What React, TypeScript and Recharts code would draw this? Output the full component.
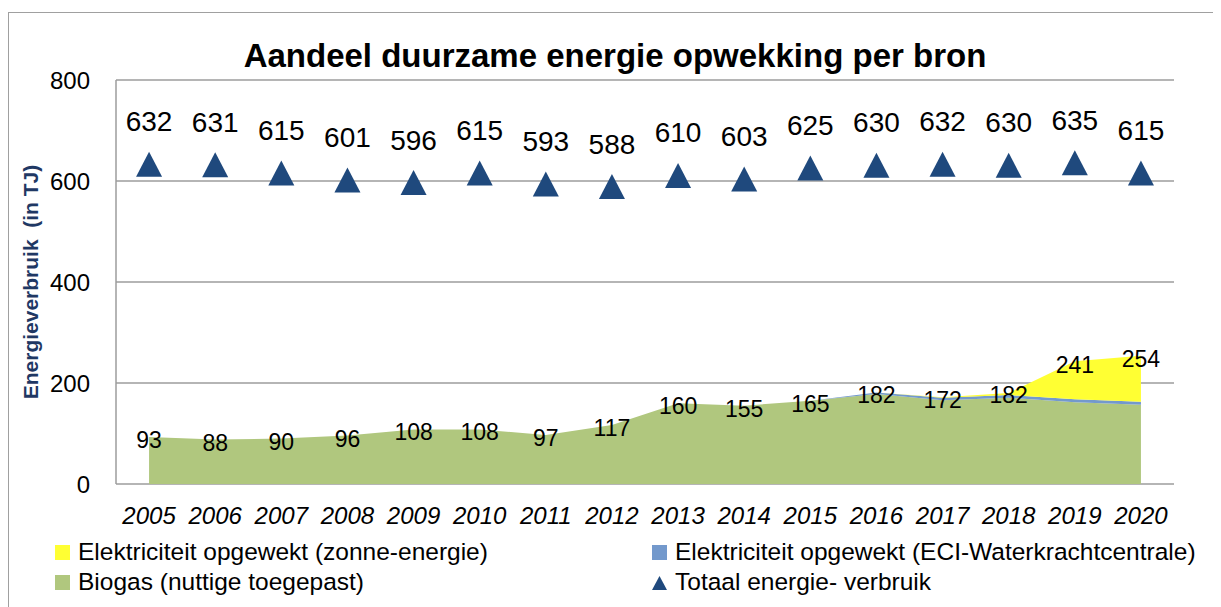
import React from 'react';
import { ComposedChart, Area, Line, XAxis, YAxis, CartesianGrid, Legend, LabelList } from 'recharts';

const years = ['2005', '2006', '2007', '2008', '2009', '2010', '2011', '2012', '2013', '2014', '2015', '2016', '2017', '2018', '2019', '2020'];
const biogas = [93, 88, 90, 96, 108, 108, 97, 117, 160, 155, 165, 178, 166, 171, 162, 157];
const eci = [0, 0, 0, 0, 0, 0, 0, 0, 0, 0, 0, 3, 5, 5, 6, 6];
const zonne = [0, 0, 0, 0, 0, 0, 0, 0, 0, 0, 0, 0, 1, 4, 75, 91];
const areaLabels = [93, 88, 90, 96, 108, 108, 97, 117, 160, 155, 165, 182, 172, 182, 241, 254];
const totaal = [632, 631, 615, 601, 596, 615, 593, 588, 610, 603, 625, 630, 632, 630, 635, 615];
const yTicks = [0, 200, 400, 600, 800];

const data = years.map((y, i) => ({
  idx: i,
  year: y,
  biogas: biogas[i],
  eci: eci[i],
  zonne: zonne[i],
  areaLabel: areaLabels[i],
  totaal: totaal[i],
}));

const centerTicks = years.map((_, i) => i);
const boundaryTicks = [-0.5, ...years.map((_, i) => i + 0.5)];

const FONT = '"Liberation Sans", Arial, sans-serif';
const C_GREEN = '#B0C77E';
const C_YELLOW = '#FFFF33';
const C_BLUE = '#7399CC';
const C_TRI = '#1F497D';
const GRID = '#9C9C9C';

const Triangle = (props: any) => {
  const { cx, cy } = props;
  if (cx == null || cy == null) return null;
  const pts = `${cx},${cy - 13} ${cx - 13},${cy + 12} ${cx + 13},${cy + 12}`;
  return <polygon points={pts} fill={C_TRI} />;
};

const TotLabel = (props: any) => {
  const { x, y, value } = props;
  return (
    <text x={x} y={y - 43} textAnchor="middle" dominantBaseline="central" fontSize={28} fontFamily={FONT} fill="#000">
      {value}
    </text>
  );
};

const AreaLabel = (props: any) => {
  const { x, y, value } = props;
  return (
    <text x={x} y={y + 3} textAnchor="middle" dominantBaseline="central" fontSize={23} fontFamily={FONT} fill="#000">
      {value}
    </text>
  );
};

const legendItems = [
  { label: 'Elektriciteit opgewekt (zonne-energie)', color: C_YELLOW, kind: 'sq' },
  { label: 'Elektriciteit opgewekt (ECI-Waterkrachtcentrale)', color: C_BLUE, kind: 'sq' },
  { label: 'Biogas (nuttige toegepast)', color: C_GREEN, kind: 'sq' },
  { label: 'Totaal energie- verbruik', color: C_TRI, kind: 'tri' },
];

const LegendContent = () => (
  <div style={{ position: 'relative', width: 1208, height: 60, fontFamily: FONT, fontSize: 24.5, color: '#000' }}>
    {legendItems.map((it, i) => {
      const col = i % 2;
      const row = Math.floor(i / 2);
      const left = col === 0 ? 46 : 643;
      return (
        <div
          key={it.label}
          style={{ position: 'absolute', left, top: row * 30, height: 30, display: 'flex', alignItems: 'center', whiteSpace: 'nowrap' }}
        >
          {it.kind === 'sq' ? (
            <span style={{ display: 'inline-block', width: 15, height: 15, background: it.color, marginRight: 8 }} />
          ) : (
            <svg width={15} height={15} style={{ marginRight: 8 }}>
              <polygon points="7.5,1 0,15 15,15" fill={it.color} />
            </svg>
          )}
          <span>{it.label}</span>
        </div>
      );
    })}
  </div>
);

const YLabel = (props: any) => {
  const vb = props.viewBox || {};
  const cy = (vb.y || 67) + (vb.height || 404) / 2;
  return (
    <text
      x={21}
      y={cy}
      transform={`rotate(-90, 21, ${cy})`}
      textAnchor="middle"
      dominantBaseline="central"
      fontSize={21}
      fontWeight="bold"
      fontFamily={FONT}
      fill="#1F3864"
      style={{ whiteSpace: 'pre' }}
    >
      Energieverbruik  (in TJ)
    </text>
  );
};

export default function App() {
  return (
    <div
      style={{
        position: 'relative',
        marginTop: 4,
        width: 1208,
        height: 594,
        borderLeft: '1px solid #A0A0A0',
        borderRight: '1px solid #A0A0A0',
        borderTop: '1px solid #A0A0A0',
        background: '#fff',
      }}
    >
      <ComposedChart width={1208} height={594} data={data} margin={{ top: 67, right: 43, left: 0, bottom: 33 }}>
        <text x={606} y={42} textAnchor="middle" dominantBaseline="central" fontSize={33} fontWeight="bold" fontFamily={FONT} fill="#000">
          Aandeel duurzame energie opwekking per bron
        </text>
        <CartesianGrid horizontal vertical={false} stroke={GRID} strokeWidth={1.5} />
        <XAxis
          dataKey="idx"
          type="number"
          domain={[-0.5, 15.5]}
          ticks={boundaryTicks}
          tickFormatter={() => ''}
          tickSize={8}
          axisLine={{ stroke: GRID, strokeWidth: 1.5 }}
          tickLine={{ stroke: GRID, strokeWidth: 1.5 }}
          height={0}
          interval={0}
          allowDataOverflow
        />
        <XAxis
          xAxisId="lbl"
          dataKey="idx"
          type="number"
          domain={[-0.5, 15.5]}
          ticks={centerTicks}
          tickFormatter={(v: number) => years[v]}
          axisLine={false}
          tickLine={false}
          tickSize={0}
          tickMargin={23}
          height={30}
          interval={0}
          allowDataOverflow
          tick={{ fontSize: 24, fontStyle: 'italic', fill: '#000', fontFamily: FONT }}
        />
        <YAxis
          domain={[0, 800]}
          ticks={yTicks}
          width={107}
          axisLine={{ stroke: GRID, strokeWidth: 1.5 }}
          tickLine={false}
          tickSize={0}
          tickMargin={26}
          tick={{ fontSize: 24, fill: '#000', fontFamily: FONT }}
          label={<YLabel />}
        />
        <Area type="linear" dataKey="biogas" stackId="a" fill={C_GREEN} fillOpacity={1} stroke="none" isAnimationActive={false} name="Biogas (nuttige toegepast)" />
        <Area type="linear" dataKey="eci" stackId="a" fill={C_BLUE} fillOpacity={1} stroke="none" isAnimationActive={false} name="Elektriciteit opgewekt (ECI-Waterkrachtcentrale)" />
        <Area type="linear" dataKey="zonne" stackId="a" fill={C_YELLOW} fillOpacity={1} stroke="none" isAnimationActive={false} name="Elektriciteit opgewekt (zonne-energie)" />
        <Line type="linear" dataKey="areaLabel" stroke="none" dot={false} activeDot={false} isAnimationActive={false} legendType="none">
          <LabelList dataKey="areaLabel" content={<AreaLabel />} />
        </Line>
        <Line type="linear" dataKey="totaal" stroke="none" dot={<Triangle />} activeDot={false} isAnimationActive={false} name="Totaal energie- verbruik">
          <LabelList dataKey="totaal" content={<TotLabel />} />
        </Line>
        <Legend
          content={<LegendContent />}
          verticalAlign="bottom"
          height={60}
          wrapperStyle={{ position: 'absolute', left: 0, top: 524, bottom: 'auto', width: 1208, height: 60 }}
        />
      </ComposedChart>
    </div>
  );
}
